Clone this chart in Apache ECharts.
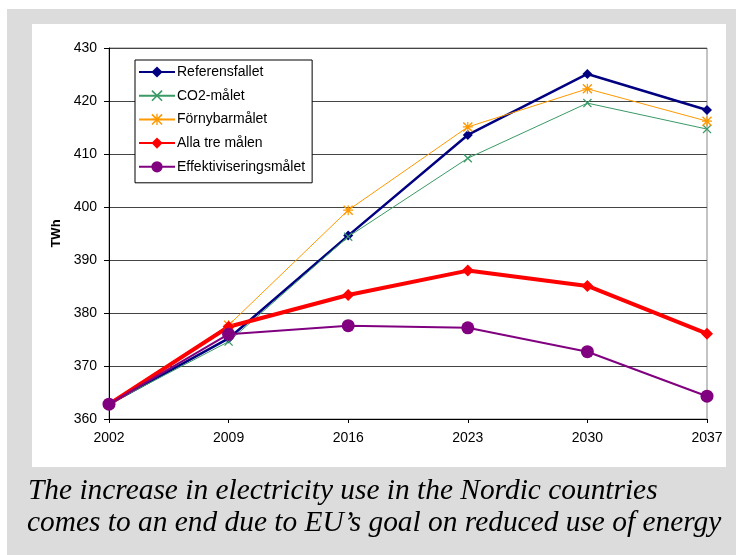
<!DOCTYPE html>
<html>
<head>
<meta charset="utf-8">
<script src="https://cdn.jsdelivr.net/npm/echarts@6/dist/echarts.min.js"></script>
<style>html,body{margin:0;padding:0;background:#fff;}#c{width:736px;height:555px;}</style>
</head>
<body>
<div id="c"></div>
<script>
var years = ['2002','2009','2016','2023','2030','2037'];
var referensfallet = [362.8, 375.2, 394.6, 413.6, 425.1, 418.3];
var co2malet = [362.8, 374.6, 394.4, 409.2, 419.6, 414.7];
var fornybarmalet = [362.8, 377.7, 399.4, 415.1, 422.3, 416.2];
var allaTreMalen = [362.8, 377.4, 383.4, 388.0, 385.1, 376.1];
var effektivisering = [362.8, 376.0, 377.6, 377.2, 372.7, 364.3];
var captionLines = ['The increase in electricity use in the Nordic countries',
                    'comes to an end due to EU\u2019s goal on reduced use of energy'];

var xPath = 'path://M0,1 L1,0 L5,4 L9,0 L10,1 L6,5 L10,9 L9,10 L5,6 L1,10 L0,9 L4,5 Z';
var starPath = 'path://M0,1 L1,0 L5,4 L9,0 L10,1 L6,5 L10,9 L9,10 L5,6 L1,10 L0,9 L4,5 Z M4.4,0 L5.6,0 L5.6,10 L4.4,10 Z M0,4.4 L10,4.4 L10,5.6 L0,5.6 Z';

var chart = echarts.init(document.getElementById('c'), null, {renderer: 'canvas'});
var font = 'Liberation Sans, Arial, sans-serif';
var capFont = 'italic 29.4px "Liberation Serif", "Times New Roman", serif';
chart.setOption({
  animation: false,
  graphic: [
    {type: 'rect', z: -10, shape: {x: 7, y: 9, width: 729, height: 546}, style: {fill: '#dcdcdc'}},
    {type: 'rect', z: -9, shape: {x: 32, y: 24, width: 694, height: 443}, style: {fill: '#ffffff'}},
    {type: 'text', x: 28, y: 477, style: {text: captionLines[0], font: capFont, fill: '#000', verticalAlign: 'top'}},
    {type: 'text', x: 27, y: 509, style: {text: captionLines[1], font: capFont, fill: '#000', verticalAlign: 'top'}}
  ],
  grid: {left: 109, right: 29, top: 48, bottom: 136, show: true, borderColor: '#888', borderWidth: 1, backgroundColor: 'transparent'},
  legend: {
    orient: 'vertical', left: 135, top: 60,
    backgroundColor: '#fff', borderColor: '#000', borderWidth: 1,
    padding: [5, 7, 9, 3], itemGap: 9.7, itemWidth: 36, itemHeight: 14,
    textStyle: {fontFamily: font, fontSize: 14, color: '#000', padding: [0, 0, 0, -3]},
    data: ['Referensfallet', 'CO2-målet', 'Förnybarmålet', 'Alla tre målen', 'Effektiviseringsmålet']
  },
  xAxis: {
    type: 'category', data: years, boundaryGap: false,
    axisLine: {lineStyle: {color: '#000', width: 1}},
    axisTick: {show: true, length: 4, lineStyle: {color: '#000'}},
    axisLabel: {fontFamily: font, fontSize: 14, color: '#000', margin: 12},
    splitLine: {show: false}
  },
  yAxis: {
    type: 'value', min: 360, max: 430, interval: 10,
    name: 'TWh', nameLocation: 'middle', nameRotate: 90, nameGap: 43,
    nameTextStyle: {fontFamily: font, fontSize: 13, fontWeight: 'bold', color: '#000'},
    axisLine: {show: true, lineStyle: {color: '#000', width: 1}},
    axisTick: {show: true, length: 5, lineStyle: {color: '#000'}},
    axisLabel: {fontFamily: font, fontSize: 14, color: '#000', margin: 12},
    splitLine: {show: true, lineStyle: {color: '#444', width: 1}}
  },
  series: [
    {name: 'Referensfallet', type: 'line', data: referensfallet, symbol: 'diamond', symbolSize: 10,
     lineStyle: {color: '#000080', width: 2.5}, itemStyle: {color: '#000080'}},
    {name: 'CO2-målet', type: 'line', data: co2malet, symbol: xPath, symbolSize: 9,
     lineStyle: {color: '#3a9a66', width: 1}, itemStyle: {color: '#3a9a66'}},
    {name: 'Förnybarmålet', type: 'line', data: fornybarmalet, symbol: starPath, symbolSize: 10,
     lineStyle: {color: '#ff9900', width: 1}, itemStyle: {color: '#ff9900'}},
    {name: 'Alla tre målen', type: 'line', data: allaTreMalen, symbol: 'diamond', symbolSize: 12,
     lineStyle: {color: '#ff0000', width: 4}, itemStyle: {color: '#ff0000'}},
    {name: 'Effektiviseringsmålet', type: 'line', data: effektivisering, symbol: 'circle', symbolSize: 13,
     lineStyle: {color: '#800080', width: 2}, itemStyle: {color: '#800080'}}
  ]
});
</script>
</body>
</html>
